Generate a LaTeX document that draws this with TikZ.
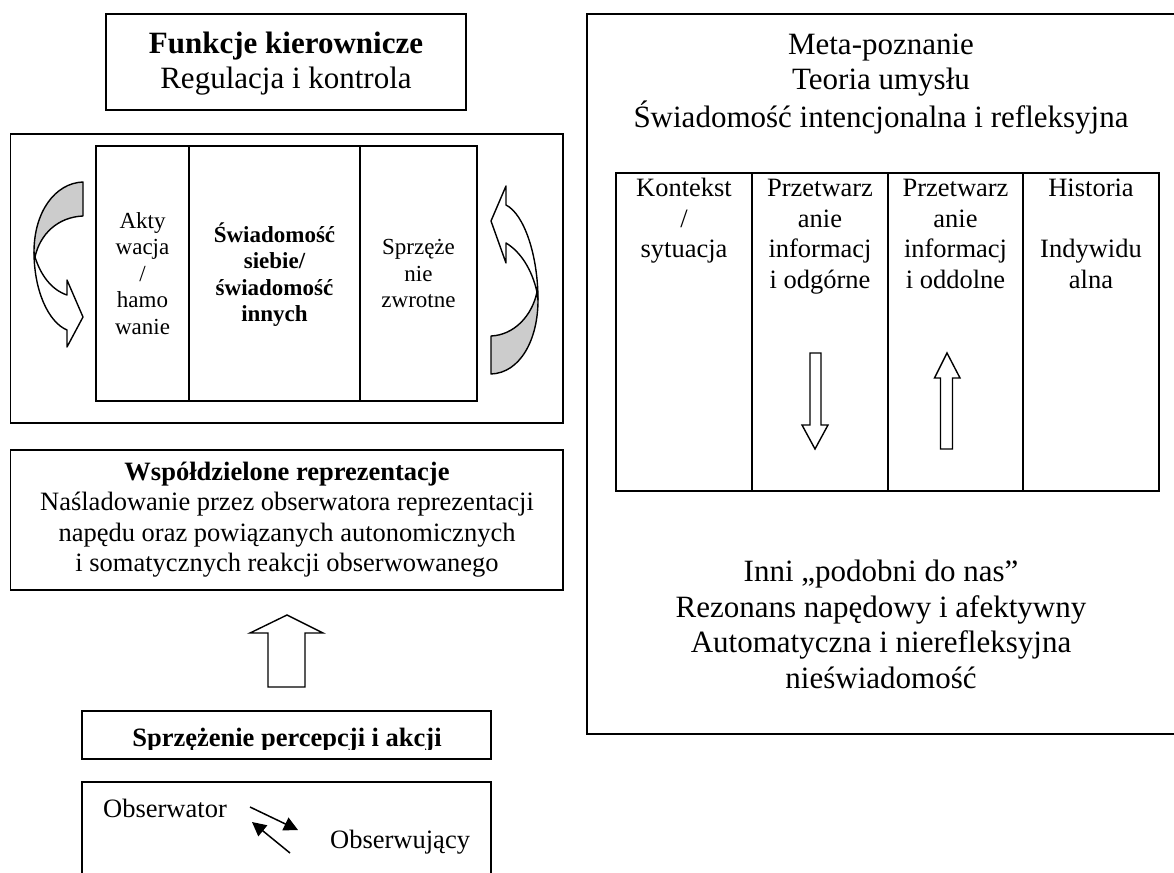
\documentclass[tikz,border=0pt]{standalone}
\usepackage{fontspec}
\setmainfont{Liberation Serif}
\usetikzlibrary{arrows.meta}
\begin{document}
\begin{tikzpicture}[x=1pt,y=-1pt,
  box/.style={draw=black, line width=1.8pt, inner sep=0pt},
  tbox/.style={draw=black, line width=2.6pt, inner sep=0pt},
  tline/.style={draw=black, line width=2.6pt},
  big/.style={font=\fontsize{31}{35.5}\selectfont},
  mid/.style={font=\fontsize{26.5}{30.5}\selectfont},
  small/.style={font=\fontsize{23}{26.5}\selectfont},
  smallbf/.style={font=\fontsize{23}{26.5}\selectfont\bfseries},
  txt/.style={align=center, inner sep=0pt},
  ribbon/.style={draw=black, line width=1.4pt, line join=round},
  blockarrow/.style={draw=black, line width=1.4pt, fill=white, line join=miter},
  obsarrow/.style={draw=black, line width=1.5pt, -{Triangle[length=14pt,width=14pt]}},
]
\useasboundingbox (0,0) rectangle (1174,872);
\fill[white] (0,0) rectangle (1174,872);

% ---------- left column ----------
\node[box, minimum width=360pt, minimum height=96pt] (fk) at (286,62) {};
\node[txt,big] (fkt) at (286,64) {\strut\textbf{Funkcje kierownicze}\\\strut Regulacja i kontrola};

\node[box, minimum width=552.5pt, minimum height=289pt] (lb) at (286.75,278.5) {};
\node[tbox, minimum width=381pt, minimum height=255pt] (ib) at (286.5,273.5) {};
\draw[tline] (189,146) -- (189,401);
\draw[tline] (360,146) -- (360,401);

\node[txt,small] (c1) at (142.5,276) {\strut Akty\\\strut wacja\\\strut /\\\strut hamo\\\strut wanie};
\node[txt,smallbf] (c2) at (274.5,276) {\strut Świadomość\\\strut siebie/\\\strut świadomość\\\strut innych};
\node[txt,small] (c3) at (418.5,276) {\strut Sprzęże\\\strut nie\\\strut zwrotne};

% left curved arrow
\path[ribbon, fill=black!20] (83,182) .. controls (55,183) and (34,212) .. (34,252) -- (35,257)
   .. controls (40,234) and (58,217) .. (83,216) -- cycle;
\path[ribbon, fill=white] (35,257) .. controls (41,276) and (52,290) .. (67,295) -- (67,280) -- (83,317)
   -- (67,347) -- (67,330) .. controls (48,322) and (34,290) .. (34,252) -- cycle;

% right curved arrow
\path[ribbon, fill=black!20] (491,374) .. controls (520,373) and (538,340) .. (538,300) -- (537,292)
   .. controls (532,316) and (514,335) .. (491,336) -- cycle;
\path[ribbon, fill=white] (537,292) .. controls (532,270) and (521,252) .. (506,243) -- (506,263)
   -- (491,221) -- (506,186) -- (506,205) .. controls (524,214) and (538,255) .. (538,300) -- cycle;

\node[box, minimum width=552.5pt, minimum height=140pt] (wr) at (286.75,520) {};
\node[txt,mid] (wrt) at (287,520) {\strut\textbf{Współdzielone reprezentacje}\\\strut Naśladowanie przez obserwatora reprezentacji\\\strut napędu oraz powiązanych autonomicznych\\\strut i somatycznych reakcji obserwowanego};

\draw[blockarrow] (268,687) -- (268,633) -- (250,633) -- (287,615) -- (323,633) -- (305,633) -- (305,687) -- cycle;

\node[box, minimum width=409pt, minimum height=48pt] (sp) at (286.5,735) {};
\begin{scope}
\clip (82,711) rectangle (491,749);
\node[txt,mid,anchor=base] (spt) at (287,746) {\textbf{Sprzężenie percepcji i akcji}};
\end{scope}

\node[box, minimum width=409pt, minimum height=178pt] (ob) at (286.5,871) {};
\node[mid, inner sep=0pt, anchor=base west] (obs1) at (103,817) {Obserwator};
\node[mid, inner sep=0pt, anchor=base west] (obs2) at (330,848) {Obserwujący};
\coordinate (a1s) at (250,807);
\coordinate (a1e) at (298,830);
\coordinate (a2s) at (290,853);
\coordinate (a2e) at (252,822);
\draw[obsarrow] (a1s) -- (a1e);
\draw[obsarrow] (a2s) -- (a2e);

% ---------- right column ----------
\node[box, minimum width=588pt, minimum height=720pt] (rb) at (881,374) {};
\node[txt,big] (rbt) at (881,84) {\strut Meta-poznanie\\\strut Teoria umysłu\\\strut Świadomość intencjonalna i refleksyjna};

\node[tbox, minimum width=543pt, minimum height=318pt] (tb) at (887.5,332) {};
\draw[tline] (752,173) -- (752,491);
\draw[tline] (888,173) -- (888,491);
\draw[tline] (1023,173) -- (1023,491);

\node[txt,mid,anchor=north] (k1) at (684,175) {\strut Kontekst\\\strut /\\\strut sytuacja};
\node[txt,mid,anchor=north] (k2) at (820,175) {\strut Przetwarz\\\strut anie\\\strut informacj\\\strut i odgórne};
\node[txt,mid,anchor=north] (k3) at (955.5,175) {\strut Przetwarz\\\strut anie\\\strut informacj\\\strut i oddolne};
\node[txt,mid,anchor=north] (k4) at (1091,175) {\strut Historia\\\strut\\\strut Indywidu\\\strut alna};

\draw[blockarrow] (810,353) -- (821,353) -- (821,425) -- (828,425) -- (815,449) -- (802,425) -- (810,425) -- cycle;
\draw[blockarrow] (947,353) -- (960,378) -- (952.5,378) -- (952.5,449) -- (940.5,449) -- (940.5,378) -- (934.5,378) -- cycle;

\node[txt,big] (rbb) at (881,628) {\strut Inni „podobni do nas”\\\strut Rezonans napędowy i afektywny\\\strut Automatyczna i nierefleksyjna\\\strut nieświadomość};
\end{tikzpicture}
\end{document}
